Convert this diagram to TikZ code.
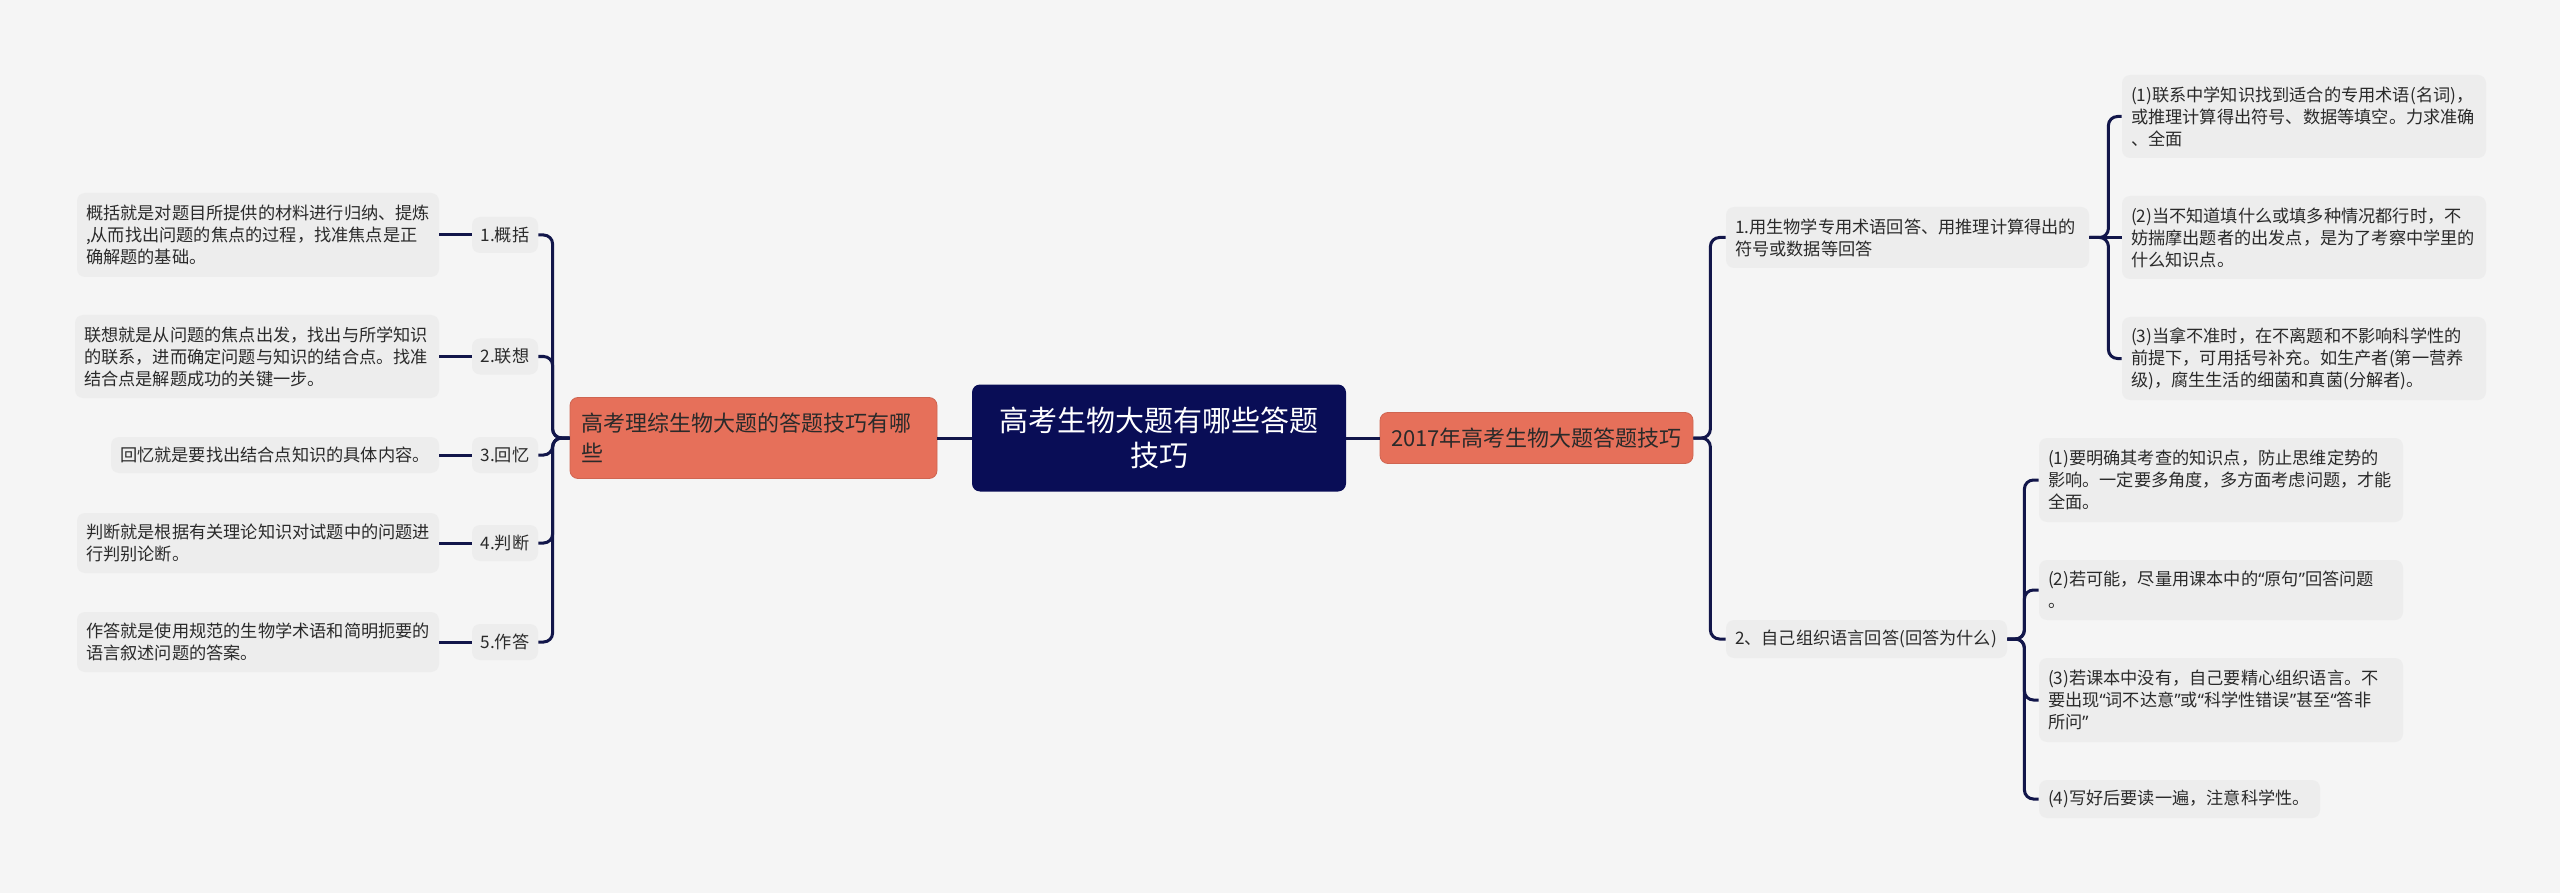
\documentclass[tikz,border=0pt]{standalone}
\usepackage{fontspec}
\setmainfont{Noto Sans CJK SC}
\newfontfamily\qfont{Noto Sans}
\newcommand\myLQ{{\qfont “}}
\newcommand\myRQ{{\qfont ”}}
\definecolor{bgc}{HTML}{F5F5F5}
\definecolor{boxc}{HTML}{EDEDED}
\definecolor{linec}{HTML}{12164A}
\definecolor{navy}{HTML}{090D56}
\definecolor{coral}{HTML}{E6705A}
\definecolor{txt}{HTML}{2A2A2A}
\tikzset{
  conn/.style={draw=linec,line width=1.5pt,rounded corners=4.5pt},
  gbox/.style={fill=boxc,rounded corners=4pt,inner xsep=4.5pt,inner ysep=0pt,align=left,text=txt,
    font=\fontsize{8.6pt}{11pt}\selectfont},
  lbl/.style={fill=boxc,rounded corners=4pt,inner sep=0pt,align=center,text=txt,
    minimum width=33pt,minimum height=18pt,font=\fontsize{8.6pt}{11pt}\selectfont},
  mainbox/.style={fill=coral,draw=coral!90!black,line width=0.4pt,rounded corners=4pt,inner ysep=0pt,text=txt,
    font=\fontsize{11pt}{15pt}\selectfont},
  rootbox/.style={fill=navy,rounded corners=4pt,inner sep=0pt,text=white,align=center,
    font=\fontsize{14.5pt}{17.5pt}\selectfont}
}
\begin{document}
\begin{tikzpicture}[x=0.5pt,y=-0.5pt]
\useasboundingbox[fill=bgc] (0,0) rectangle (2560,893);

% root
\node[rootbox,minimum width=187pt,minimum height=53.5pt,text width=175pt] (C) at (1159,438) {高考生物大题有哪些答题\\技巧};

% main branches
\node[mainbox,minimum width=183.5pt,minimum height=40.5pt,inner xsep=5.5pt,text width=172.5pt,align=left] (LM) at (753.5,438) {高考理综生物大题的答题技巧有哪\\些};
\node[mainbox,minimum width=156.5pt,minimum height=25.5pt,inner xsep=0pt,align=center] (RM) at (1536.5,438) {2017年高考生物大题答题技巧};

% left labels
\node[lbl] (L1) at (505,235) {1.概括};
\node[lbl] (L2) at (505,356.5) {2.联想};
\node[lbl] (L3) at (505,455) {3.回忆};
\node[lbl] (L4) at (505,543) {4.判断};
\node[lbl] (L5) at (505,642) {5.作答};

% left descriptions
\node[gbox,minimum width=181pt,minimum height=42pt,text width=172pt] (D1) at (258,235) {概括就是对题目所提供的材料进行归纳、提炼\\,从而找出问题的焦点的过程，找准焦点是正\\确解题的基础。};
\node[gbox,minimum width=182pt,minimum height=41.5pt,text width=173pt] (D2) at (257,356.5) {联想就是从问题的焦点出发，找出与所学知识\\的联系，进而确定问题与知识的结合点。找准\\结合点是解题成功的关键一步。};
\node[gbox,minimum width=164pt,minimum height=18pt,text width=155pt] (D3) at (275,455) {回忆就是要找出结合点知识的具体内容。};
\node[gbox,minimum width=181pt,minimum height=30pt,text width=172pt] (D4) at (258,543) {判断就是根据有关理论知识对试题中的问题进\\行判别论断。};
\node[gbox,minimum width=181pt,minimum height=30pt,text width=172pt] (D5) at (258,642) {作答就是使用规范的生物学术语和简明扼要的\\语言叙述问题的答案。};

% right level 2
\node[gbox,minimum width=181.5pt,minimum height=30.5pt,text width=172.5pt] (R1) at (1907.5,237.5) {1.用生物学专用术语回答、用推理计算得出的\\符号或数据等回答};
\node[gbox,minimum width=140.5pt,minimum height=19pt,text width=131.5pt] (R2) at (1866.5,639) {2、自己组织语言回答(回答为什么)};

% right level 3 (under R1)
\node[gbox,minimum width=182pt,minimum height=41.5pt,text width=173pt] (S11) at (2304,116.5) {(1)联系中学知识找到适合的专用术语(名词)，\\或推理计算得出符号、数据等填空。力求准确\\、全面};
\node[gbox,minimum width=182pt,minimum height=41.5pt,text width=173pt] (S12) at (2304,237.5) {(2)当不知道填什么或填多种情况都行时，不\\妨揣摩出题者的出发点，是为了考察中学里的\\什么知识点。};
\node[gbox,minimum width=182pt,minimum height=41.5pt,text width=173pt] (S13) at (2304,358.5) {(3)当拿不准时，在不离题和不影响科学性的\\前提下，可用括号补充。如生产者(第一营养\\级)，腐生生活的细菌和真菌(分解者)。};

% right level 3 (under R2)
\node[gbox,minimum width=182pt,minimum height=42pt,text width=173pt] (S21) at (2221,480) {(1)要明确其考查的知识点，防止思维定势的\\影响。一定要多角度，多方面考虑问题，才能\\全面。};
\node[gbox,minimum width=182pt,minimum height=30pt,text width=173pt] (S22) at (2221,590) {(2)若可能，尽量用课本中的\myLQ 原句\myRQ 回答问题\\。};
\node[gbox,minimum width=182pt,minimum height=42pt,text width=173pt] (S23) at (2221,700) {(3)若课本中没有，自己要精心组织语言。不\\要出现\myLQ 词不达意\myRQ 或\myLQ 科学性错误\myRQ 甚至\myLQ 答非\\所问\myRQ};
\node[gbox,minimum width=140.5pt,minimum height=19pt,text width=131.5pt] (S24) at (2179.5,799) {(4)写好后要读一遍，注意科学性。};

% connectors
\draw[conn] (C.west) -- (LM.east);
\draw[conn] (C.east) -- (RM.west);

\foreach \i in {1,...,5}{
  \draw[conn] (LM.west) -- ++(-17,0) |- (L\i.east);
  \draw[conn] (L\i.west) -- (D\i.east);
}

\draw[conn] (RM.east) -- ++(17,0) |- (R1.west);
\draw[conn] (RM.east) -- ++(17,0) |- (R2.west);

\draw[conn] (R1.east) -- ++(19,0) |- (S11.west);
\draw[conn] (R1.east) -- (S12.west);
\draw[conn] (R1.east) -- ++(19,0) |- (S13.west);

\draw[conn] (R2.east) -- ++(17,0) |- (S21.west);
\draw[conn] (R2.east) -- ++(17,0) |- (S22.west);
\draw[conn] (R2.east) -- ++(17,0) |- (S23.west);
\draw[conn] (R2.east) -- ++(17,0) |- (S24.west);
\end{tikzpicture}
\end{document}
